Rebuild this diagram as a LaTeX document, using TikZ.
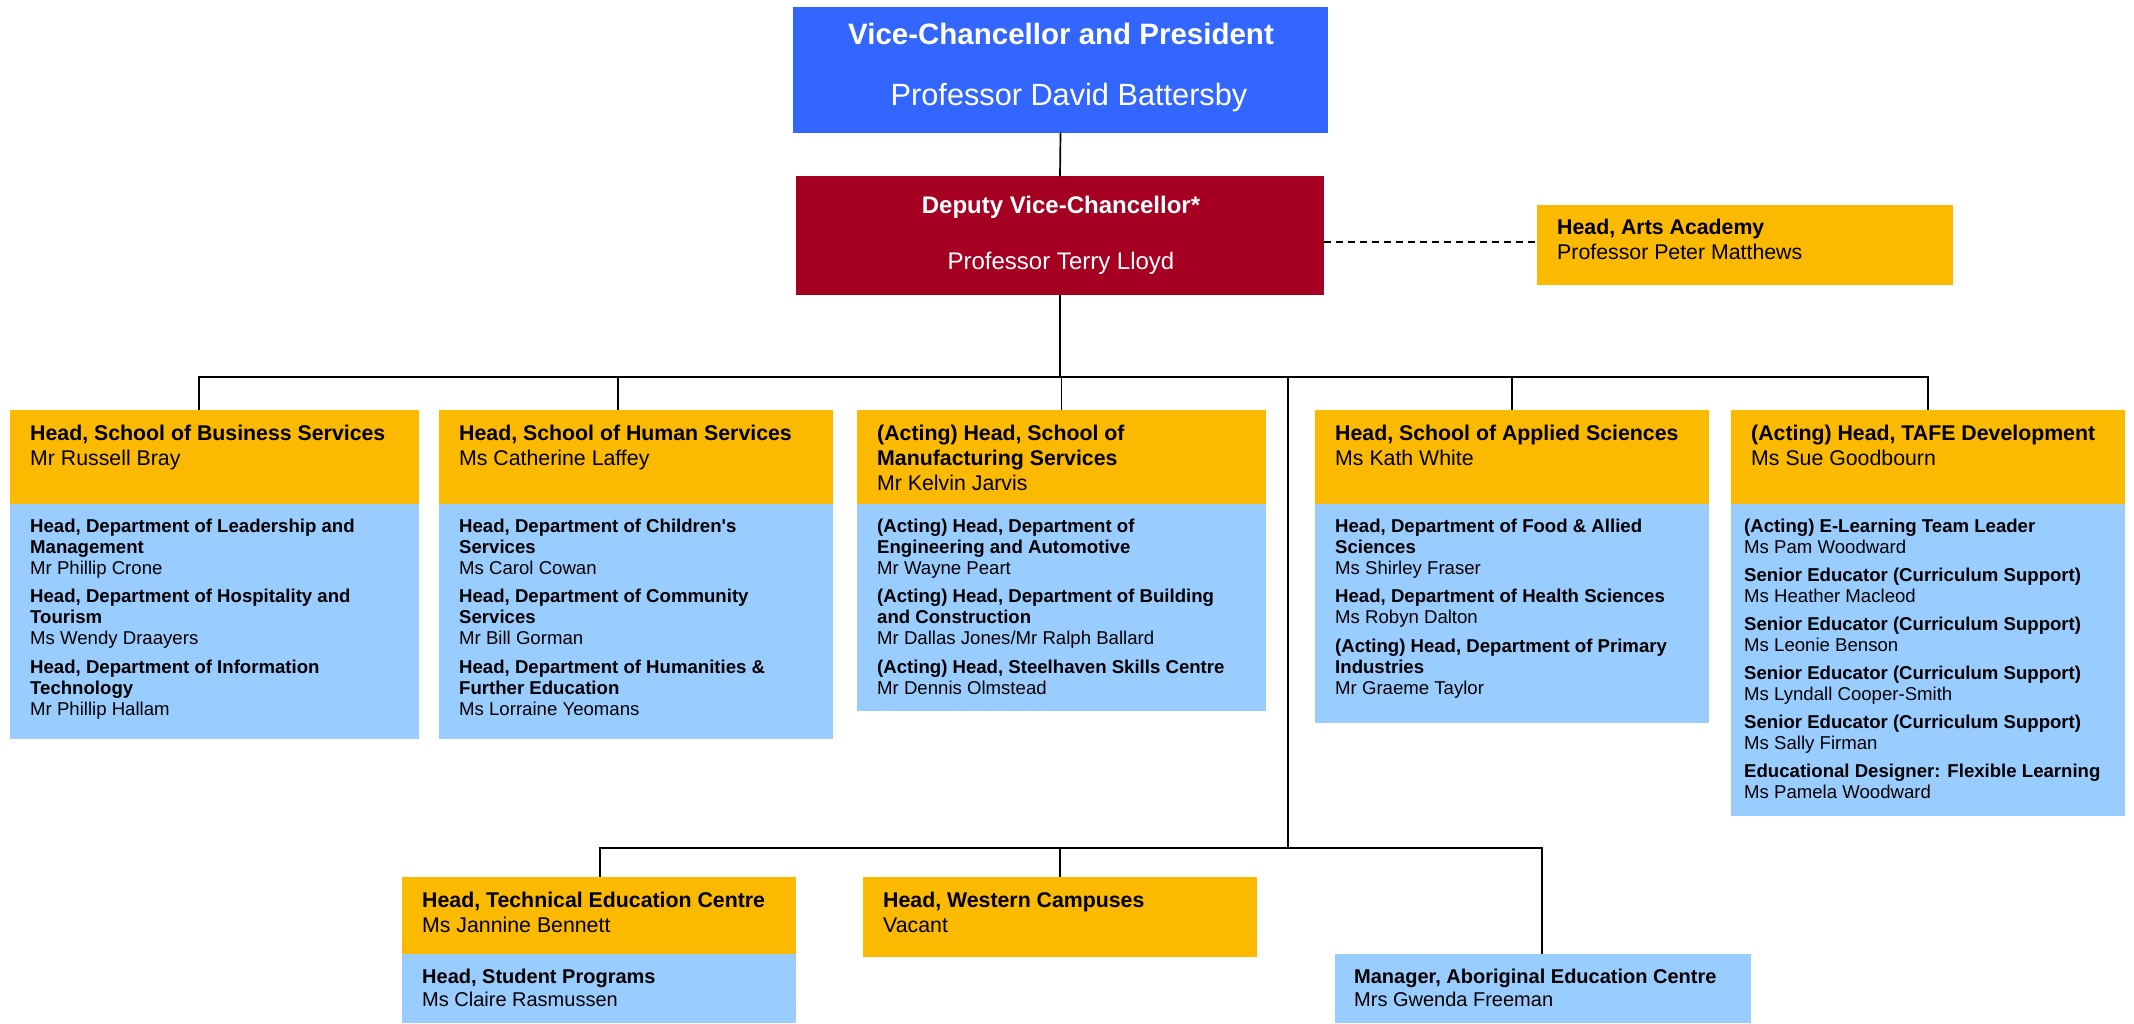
\documentclass[tikz,border=0pt]{standalone}
\usepackage{fontspec}
\setmainfont{Liberation Sans}
\definecolor{vcblue}{HTML}{3366FF}
\definecolor{dvcred}{HTML}{A50021}
\definecolor{orng}{HTML}{FBB900}
\definecolor{lblue}{HTML}{99CCFF}
\newcommand\myhead{\fontsize{21.3}{25}\selectfont}
\newcommand\mybody{\fontsize{18.6}{21}\selectfont}
\newcommand\mybot{\fontsize{20}{23}\selectfont}
\newcommand\sq{\XeTeXglyph\the\XeTeXglyphindex "quotesingle"\relax}
\begin{document}
\begin{tikzpicture}[x=1pt,y=-1pt,
 rbox/.style={draw=none,inner sep=0pt,outer sep=0pt,anchor=north west},
 obox/.style={rbox,fill=orng},
 bbox/.style={rbox,fill=lblue},
 htext/.style={anchor=north west,inner sep=0pt,align=left,font=\myhead},
 btext/.style={anchor=north west,inner sep=0pt,align=left,font=\mybody},
 ctext/.style={anchor=north west,inner sep=0pt,align=left,font=\mybot},
 ttext/.style={anchor=base,inner sep=0pt,text=white},
 conn/.style={line width=1.7pt,black},
]
\useasboundingbox (0,0) rectangle (2134,1023);

% ---------- boxes ----------
\node[rbox,fill=vcblue,minimum width=535pt,minimum height=126pt] (vc) at (793,7) {};
\node[rbox,fill=dvcred,minimum width=528pt,minimum height=119pt] (dvc) at (796,176) {};
\node[obox,minimum width=416pt,minimum height=80pt] (arts) at (1537,205) {};

\node[obox,minimum width=409pt,minimum height=94pt] (bus) at (10,410) {};
\node[bbox,minimum width=409pt,minimum height=235pt] (busb) at (10,504) {};
\node[obox,minimum width=394pt,minimum height=94pt] (hum) at (439,410) {};
\node[bbox,minimum width=394pt,minimum height=235pt] (humb) at (439,504) {};
\node[obox,minimum width=409pt,minimum height=94pt] (man) at (857,410) {};
\node[bbox,minimum width=409pt,minimum height=207pt] (manb) at (857,504) {};
\node[obox,minimum width=394pt,minimum height=94pt] (app) at (1315,410) {};
\node[bbox,minimum width=394pt,minimum height=219pt] (appb) at (1315,504) {};
\node[obox,minimum width=394pt,minimum height=94pt] (taf) at (1731,410) {};
\node[bbox,minimum width=394pt,minimum height=312pt] (tafb) at (1731,504) {};

\node[obox,minimum width=394pt,minimum height=77pt] (tec) at (402,877) {};
\node[bbox,minimum width=394pt,minimum height=69pt] (tecb) at (402,954) {};
\node[obox,minimum width=394pt,minimum height=80pt] (wes) at (863,877) {};
\node[bbox,minimum width=416pt,minimum height=69pt] (abo) at (1335,954) {};

% ---------- connectors ----------
\coordinate (ja) at (0,377);
\coordinate (hl) at (199,377);
\coordinate (hr) at (1928,377);
\coordinate (hh) at (618,377);
\coordinate (t1) at (1288,377);
\coordinate (t2) at (1288,848);
\coordinate (bl) at (600,848);
\coordinate (br) at (1542,848);
\coordinate (dl) at (0,242);

\draw[conn] (vc.south) -- (dvc.north);
\draw[conn] (dvc.south) -- (dvc.south |- ja);
\draw[conn] (hl |- bus.north) -- (hl) -- (hr) -- (taf.north);
\draw[conn] (hh) -- (hh |- hum.north);
\draw[conn] (man.north |- ja) -- (man.north);
\draw[conn] (app.north |- ja) -- (app.north);
\draw[conn] (t1) -- (t2);
\draw[conn] (bl |- tec.north) -- (bl) -- (br) -- (br |- abo.north);
\draw[conn] (wes.north |- bl) -- (wes.north);
\draw[conn,dash pattern=on 7pt off 5pt] (dvc.east |- dl) -- (arts.west |- dl);

% ---------- texts ----------
\node[ttext,font=\fontsize{29.5}{35}\selectfont\bfseries] (vct) at (1061,44) {Vice-Chancellor and President};
\node[ttext,font=\fontsize{30.7}{36}\selectfont] (vcn) at (1069,105) {Professor David Battersby};
\node[ttext,font=\fontsize{24}{29}\selectfont\bfseries] (dvct) at (1061,213) {Deputy Vice-Chancellor*};
\node[ttext,font=\fontsize{24}{29}\selectfont] (dvcn) at (1061,269) {Professor Terry Lloyd};

\node[htext] (artst) at (1557,216.5) {\strut\textbf{Head, Arts Academy}\\Professor Peter Matthews};

\node[htext] (bust) at (30,422.5) {\strut\textbf{Head, School of Business Services}\\Mr Russell Bray};
\node[btext] (busbt) at (30,517.3) {\strut\textbf{Head, Department of Leadership and}\\\textbf{Management}\\Mr Phillip Crone\\[7.5pt]\textbf{Head, Department of Hospitality and}\\\textbf{Tourism}\\Ms Wendy Draayers\\[7.5pt]\textbf{Head, Department of Information}\\\textbf{Technology}\\Mr Phillip Hallam};

\node[htext] (humt) at (459,422.5) {\strut\textbf{Head, School of Human Services}\\Ms Catherine Laffey};
\node[btext] (humbt) at (459,517.3) {\strut\textbf{Head, Department of Children\sq s}\\\textbf{Services}\\Ms Carol Cowan\\[7.5pt]\textbf{Head, Department of Community}\\\textbf{Services}\\Mr Bill Gorman\\[7.5pt]\textbf{Head, Department of Humanities \&}\\\textbf{Further Education}\\Ms Lorraine Yeomans};

\node[htext] (mant) at (877,422.5) {\strut\textbf{(Acting) Head, School of}\\\textbf{Manufacturing Services}\\Mr Kelvin Jarvis};
\node[btext] (manbt) at (877,517.3) {\strut\textbf{(Acting) Head, Department of}\\\textbf{Engineering and Automotive}\\Mr Wayne Peart\\[7.5pt]\textbf{(Acting) Head, Department of Building}\\\textbf{and Construction}\\Mr Dallas Jones/Mr Ralph Ballard\\[7.5pt]\textbf{(Acting) Head, Steelhaven Skills Centre}\\Mr Dennis Olmstead};

\node[htext] (appt) at (1335,422.5) {\strut\textbf{Head, School of Applied Sciences}\\Ms Kath White};
\node[btext] (appbt) at (1335,517.3) {\strut\textbf{Head, Department of Food \& Allied}\\\textbf{Sciences}\\Ms Shirley Fraser\\[7.5pt]\textbf{Head, Department of Health Sciences}\\Ms Robyn Dalton\\[7.5pt]\textbf{(Acting) Head, Department of Primary}\\\textbf{Industries}\\Mr Graeme Taylor};

\node[htext] (taft) at (1751,422.5) {\strut\textbf{(Acting) Head, TAFE Development}\\Ms Sue Goodbourn};
\node[btext] (tafbt) at (1744,517.3) {\strut\textbf{(Acting) E-Learning Team Leader}\\Ms Pam Woodward\\[7pt]\textbf{Senior Educator (Curriculum Support)}\\Ms Heather Macleod\\[7pt]\textbf{Senior Educator (Curriculum Support)}\\Ms Leonie Benson\\[7pt]\textbf{Senior Educator (Curriculum Support)}\\Ms Lyndall Cooper-Smith\\[7pt]\textbf{Senior Educator (Curriculum Support)}\\Ms Sally Firman\\[7pt]\textbf{Educational Designer: Flexible Learning}\\Ms Pamela Woodward};

\node[htext] (tect) at (422,889.5) {\strut\textbf{Head, Technical Education Centre}\\Ms Jannine Bennett};
\node[ctext] (tecbt) at (422,966.9) {\strut\textbf{Head, Student Programs}\\Ms Claire Rasmussen};
\node[htext] (west) at (883,889.5) {\strut\textbf{Head, Western Campuses}\\Vacant};
\node[ctext] (abot) at (1354,966.9) {\strut\textbf{Manager, Aboriginal Education Centre}\\Mrs Gwenda Freeman};
\end{tikzpicture}
\end{document}
